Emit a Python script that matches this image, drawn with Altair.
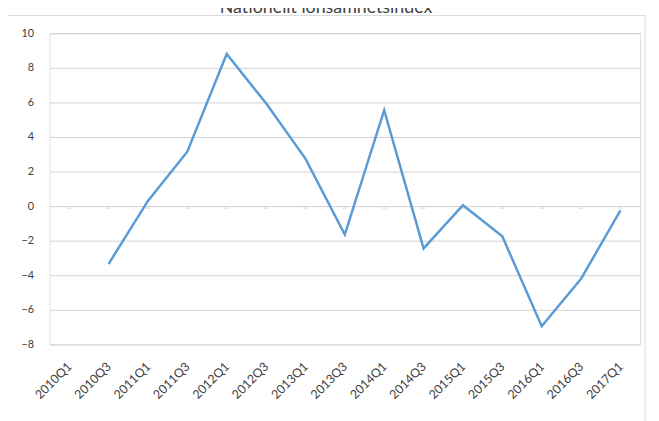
import altair as alt
import pandas as pd

quarters = ["2010Q1", "2010Q3", "2011Q1", "2011Q3", "2012Q1", "2012Q3", "2013Q1",
            "2013Q3", "2014Q1", "2014Q3", "2015Q1", "2015Q3", "2016Q1", "2016Q3", "2017Q1"]
values = [None, -3.35, 0.3, 3.15, 8.8, 5.95, 2.75, -1.65, 5.55, -2.45, 0.05, -1.75, -6.95, -4.2, -0.25]
y_ticks = [-8, -6, -4, -2, 0, 2, 4, 6, 8, 10]
title_text = "Nationellt lönsamhetsindex"

df = pd.DataFrame({"quarter": quarters, "value": values})
ticks_df = pd.DataFrame({"quarter": quarters, "zero": [0] * len(quarters)})

FONT = "Lato"

x = alt.X("quarter:N", sort=quarters, title=None,
          scale=alt.Scale(type="point", padding=0.5),
          axis=alt.Axis(labelAngle=-45, labelFontSize=12.5, labelColor="#404040",
                        labelFont=FONT, ticks=False, domain=False, grid=False,
                        labelPadding=20))

y_scale = alt.Scale(domain=[-8, 10], nice=False, zero=False)

border = alt.Chart(pd.DataFrame({"a": [0]})).mark_rect(
    fillOpacity=0, stroke="#d9d9d9", strokeWidth=1
).encode(
    x=alt.value(-44), x2=alt.value(603), y=alt.value(-18), y2=alt.value(420)
)

title = alt.Chart(pd.DataFrame({"t": [title_text]})).mark_text(
    font=FONT, fontSize=18, color="#404040", align="center", baseline="alphabetic"
).encode(
    text="t:N", x=alt.value(280), y=alt.value(-21)
)

line = alt.Chart(df).mark_line(color="#5b9bd5", strokeWidth=2.5).encode(
    x=x,
    y=alt.Y("value:Q", scale=y_scale, title=None,
            axis=alt.Axis(values=y_ticks, tickCount=20, labelFontSize=11,
                          labelColor="#404040", labelFont=FONT, ticks=False,
                          domain=False, gridColor="#d0d0d0", gridWidth=1,
                          labelPadding=16))
)

zero_ticks = alt.Chart(ticks_df).mark_tick(color="#bfbfbf", thickness=1, size=4, yOffset=2).encode(
    x=alt.X("quarter:N", sort=quarters),
    y=alt.Y("zero:Q", scale=y_scale)
)

chart = alt.layer(border, title, zero_ticks, line).properties(
    width=598, height=315,
    autosize=alt.AutoSizeParams(type="none"),
    padding={"left": 42, "top": 23, "right": 11, "bottom": 75},
).configure_view(stroke=None).configure(background="white")

chart.save("out.html", embed_options={"renderer": "svg", "actions": False})
